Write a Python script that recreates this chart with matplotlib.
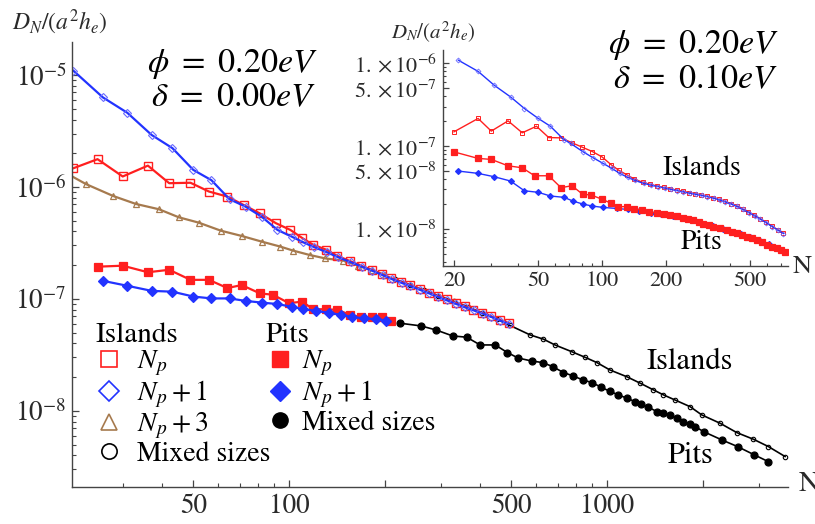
import matplotlib
matplotlib.use("Agg")
import matplotlib.pyplot as plt
from matplotlib.lines import Line2D
from matplotlib.ticker import FixedLocator, FixedFormatter, NullFormatter

plt.rcParams["font.family"] = "STIXGeneral"
plt.rcParams["mathtext.fontset"] = "stix"
plt.rcParams["axes.linewidth"] = 1.0

RED = "#ff1f1f"
BLUE = "#2233ff"
BROWN = "#a67a4e"
TXT = "#2a2a2a"
AXC = "#444444"

# ---- main panel: delta = 0.00 eV ----
isl_np_N = [21, 25, 30, 36, 42, 49, 56, 64, 72, 81, 91, 101, 110, 119, 131, 142, 156,
            169, 182, 196, 210, 225, 240, 258, 275, 294, 313, 335, 357, 380, 405, 432,
            460, 490]
isl_np_D = [1.47e-6, 1.77e-6, 1.24e-6, 1.55e-6, 1.08e-6, 1.09e-6, 9.1e-7, 8.2e-7,
            6.9e-7, 5.8e-7, 4.74e-7, 4.13e-7, 3.5e-7, 3.05e-7, 2.75e-7, 2.42e-7,
            2.17e-7, 1.97e-7, 1.82e-7, 1.66e-7, 1.53e-7, 1.42e-7, 1.33e-7, 1.23e-7,
            1.14e-7, 1.06e-7, 9.9e-8, 9.2e-8, 8.6e-8, 8.0e-8, 7.5e-8, 7.0e-8, 6.5e-8,
            6.1e-8]
isl_np1_N = [21, 26, 31, 37, 43, 50, 57, 65, 73, 82, 92, 102, 111, 120, 132, 143, 157,
             170, 183, 197, 211, 226, 241, 259, 276, 295, 314, 336, 358, 381, 406, 433,
             461, 491]
isl_np1_D = [1.09e-5, 6.3e-6, 4.6e-6, 2.91e-6, 2.22e-6, 1.42e-6, 1.15e-6, 7.77e-7,
             6.67e-7, 5.43e-7, 4.13e-7, 3.6e-7, 3.2e-7, 2.9e-7, 2.6e-7, 2.35e-7,
             2.12e-7, 1.93e-7, 1.78e-7, 1.63e-7, 1.5e-7, 1.39e-7, 1.3e-7, 1.2e-7,
             1.12e-7, 1.04e-7, 9.7e-8, 9.0e-8, 8.4e-8, 7.9e-8, 7.4e-8, 6.9e-8, 6.4e-8,
             6.0e-8]
isl_np3_N = [20, 23, 28, 33, 39, 45, 52, 61, 71, 82, 94, 103, 116, 130, 148, 165, 183, 200]
isl_np3_D = [1.32e-6, 1.06e-6, 8.3e-7, 7.05e-7, 6.32e-7, 5.36e-7, 4.8e-7, 4.07e-7,
             3.65e-7, 3.25e-7, 2.93e-7, 2.7e-7, 2.47e-7, 2.3e-7, 2.2e-7, 1.98e-7,
             1.8e-7, 1.64e-7]
isl_mix_N = [215, 240, 265, 295, 330, 365, 405, 450, 495, 573, 631, 686, 774, 853, 929,
             1021, 1153, 1270, 1399, 1504, 1637, 1825, 1986, 2266, 2558, 2886, 3216, 3630]
isl_mix_D = [1.5e-7, 1.34e-7, 1.2e-7, 1.07e-7, 9.5e-8, 8.5e-8, 7.5e-8, 6.6e-8, 5.8e-8,
             4.77e-8, 4.37e-8, 3.88e-8, 3.38e-8, 3.01e-8, 2.7e-8, 2.32e-8, 2.02e-8,
             1.77e-8, 1.54e-8, 1.39e-8, 1.25e-8, 1.09e-8, 9.2e-9, 7.76e-9, 6.4e-9,
             5.58e-9, 4.8e-9, 3.91e-9]
pit_np_N = [25, 30, 36, 42, 49, 56, 64, 71, 81, 89, 100, 110, 119, 131, 142, 156, 169,
            182, 196, 210]
pit_np_D = [1.94e-7, 1.98e-7, 1.73e-7, 1.82e-7, 1.48e-7, 1.48e-7, 1.25e-7, 1.33e-7,
            1.12e-7, 1.09e-7, 9.16e-8, 9.46e-8, 8.09e-8, 8.09e-8, 7.97e-8, 7.2e-8,
            6.87e-8, 6.87e-8, 6.87e-8, 6.4e-8]
pit_np1_N = [26, 31, 37, 43, 50, 57, 65, 73, 82, 92, 102, 111, 122, 134, 146, 158, 172,
             188, 202]
pit_np1_D = [1.45e-7, 1.31e-7, 1.18e-7, 1.16e-7, 1.05e-7, 1.01e-7, 1.01e-7, 9.6e-8,
             9.27e-8, 9.0e-8, 8.5e-8, 8.1e-8, 7.8e-8, 7.5e-8, 7.2e-8, 6.9e-8, 6.7e-8,
             6.6e-8, 6.4e-8]
pit_mix_N = [223, 260, 290, 327, 362, 399, 445, 486, 526, 580, 627, 674, 729, 783, 839,
             896, 958, 1022, 1086, 1153, 1225, 1277, 1349, 1433, 1504, 1578, 1656, 1738,
             1824, 1892, 2011, 2297, 2572, 2904, 3216]
pit_mix_D = [6.07e-8, 5.74e-8, 5.28e-8, 4.67e-8, 4.55e-8, 3.88e-8, 3.88e-8, 3.32e-8,
             2.96e-8, 2.79e-8, 2.7e-8, 2.49e-8, 2.2e-8, 2.05e-8, 1.89e-8, 1.79e-8,
             1.63e-8, 1.49e-8, 1.39e-8, 1.3e-8, 1.21e-8, 1.15e-8, 1.08e-8, 9.86e-9,
             9.66e-9, 9.2e-9, 8.6e-9, 8.0e-9, 7.65e-9, 7.24e-9, 6.53e-9, 5.5e-9, 4.8e-9,
             4.05e-9, 3.52e-9]

# ---- inset: delta = 0.10 eV ----
ins_isl_np_N = [20, 26, 30, 36, 42, 49, 56, 64, 72, 80, 90, 100, 110, 120, 131, 142,
                156, 169, 182, 196, 210, 225, 240, 258, 275, 294, 313, 335, 357, 380,
                405, 432, 460, 490, 523, 557, 593, 632, 673, 716]
ins_isl_np_D = [1.49e-7, 2.16e-7, 1.52e-7, 2.02e-7, 1.45e-7, 1.74e-7, 1.27e-7, 1.26e-7,
                1.1e-7, 9.8e-8, 8.6e-8, 7.4e-8, 6.0e-8, 5.1e-8, 4.5e-8, 4.0e-8, 3.65e-8,
                3.45e-8, 3.3e-8, 3.17e-8, 3.05e-8, 2.95e-8, 2.85e-8, 2.75e-8, 2.66e-8,
                2.57e-8, 2.48e-8, 2.38e-8, 2.27e-8, 2.15e-8, 2.03e-8, 1.9e-8, 1.75e-8,
                1.6e-8, 1.46e-8, 1.33e-8, 1.2e-8, 1.08e-8, 9.8e-9, 8.9e-9]
ins_isl_np1_N = [21, 26, 31, 37, 43, 50, 57, 66, 71, 81, 91, 101, 111, 121, 132, 143,
                 157, 170, 183, 197, 211, 226, 241, 259, 276, 295, 314, 336, 358, 381,
                 406, 433, 461, 491, 524, 558, 594, 633, 674, 717]
ins_isl_np1_D = [1.09e-6, 8.0e-7, 5.43e-7, 3.93e-7, 2.85e-7, 2.16e-7, 1.74e-7, 1.2e-7,
                 1.08e-7, 8.6e-8, 7.2e-8, 6.2e-8, 5.4e-8, 4.7e-8, 4.2e-8, 3.85e-8,
                 3.55e-8, 3.38e-8, 3.25e-8, 3.12e-8, 3.0e-8, 2.9e-8, 2.8e-8, 2.7e-8,
                 2.62e-8, 2.54e-8, 2.45e-8, 2.35e-8, 2.24e-8, 2.12e-8, 2.0e-8, 1.87e-8,
                 1.72e-8, 1.58e-8, 1.44e-8, 1.31e-8, 1.19e-8, 1.07e-8, 9.7e-9, 8.8e-9]
ins_pit_np_N = [20, 26, 30, 36, 42, 48, 56, 64, 72, 81, 89, 100, 110, 119, 131, 142, 154,
                167, 181, 195, 209, 225, 242, 255, 269, 285, 300, 318, 335, 360, 387,
                410, 432, 456, 481, 508, 536, 566, 597, 630, 666, 697, 729]
ins_pit_np_D = [8.53e-8, 7.11e-8, 6.92e-8, 5.79e-8, 5.48e-8, 4.39e-8, 4.39e-8, 3.15e-8,
                3.33e-8, 2.62e-8, 2.57e-8, 2.28e-8, 2.05e-8, 1.86e-8, 1.86e-8, 1.76e-8,
                1.69e-8, 1.62e-8, 1.55e-8, 1.51e-8, 1.48e-8, 1.42e-8, 1.35e-8, 1.32e-8,
                1.28e-8, 1.22e-8, 1.15e-8, 1.11e-8, 1.07e-8, 1.02e-8, 9.7e-9, 9.2e-9,
                8.87e-9, 8.45e-9, 8.07e-9, 7.7e-9, 7.36e-9, 6.9e-9, 6.41e-9, 6.1e-9,
                5.85e-9, 5.6e-9, 5.33e-9]
ins_pit_np1_N = [21, 26, 31, 37, 43, 50, 57, 66, 73, 81, 90, 101, 117, 132, 150, 170,
                 190, 215, 240, 270, 300, 335, 370, 410, 450, 500, 550, 610, 670, 735]
ins_pit_np1_D = [5.0e-8, 4.69e-8, 4.27e-8, 3.79e-8, 2.89e-8, 2.77e-8, 2.5e-8, 2.41e-8,
                 2.17e-8, 2.0e-8, 1.89e-8, 1.82e-8, 1.77e-8, 1.72e-8, 1.64e-8, 1.57e-8,
                 1.51e-8, 1.45e-8, 1.37e-8, 1.29e-8, 1.16e-8, 1.08e-8, 1.0e-8, 9.3e-9,
                 8.6e-9, 7.9e-9, 7.3e-9, 6.5e-9, 5.9e-9, 5.3e-9]

main_xticks = [50, 100, 200, 500, 1000, 2000]
main_xlabels = ["50", "100", "", "500", "1000", ""]
main_xminor = [30, 40, 60, 70, 80, 90, 300, 400, 600, 700, 800, 900, 3000]
main_yticks = [1e-8, 1e-7, 1e-6, 1e-5]
main_ylabels = [r"$10^{-8}$", r"$10^{-7}$", r"$10^{-6}$", r"$10^{-5}$"]
ins_xticks = [20, 50, 100, 200, 500]
ins_xminor = [30, 40, 60, 70, 80, 90, 300, 400, 600, 700]
ins_yticks = [1e-8, 5e-8, 1e-7, 5e-7, 1e-6]
ins_ylabels = [r"$1.\times10^{-8}$", r"$5.\times10^{-8}$", r"$1.\times10^{-7}$",
               r"$5.\times10^{-7}$", r"$1.\times10^{-6}$"]


def minor_decades(lo, hi):
    out = []
    for e in range(lo, hi):
        for k in range(2, 10):
            out.append(k * 10.0 ** e)
    return out


def style_axes(ax, fs):
    ax.set_xscale("log")
    ax.set_yscale("log")
    ax.set_facecolor("none")
    for s in ["top", "right"]:
        ax.spines[s].set_visible(False)
    for s in ["left", "bottom"]:
        ax.spines[s].set_color(AXC)
    ax.tick_params(which="both", direction="in", colors=AXC, labelcolor=TXT,
                   labelsize=fs)
    ax.tick_params(which="major", length=5, width=0.9)
    ax.tick_params(which="minor", length=3, width=0.8)


def curve(ax, N, D, color, marker, ms, filled, lw, mew=0.9, mec=None, z=2):
    ax.plot(N, D, color=color, lw=lw, marker=marker, ms=ms,
            mfc=(mec or color) if filled else "none", mec=mec or color, mew=mew,
            zorder=z)


def ftext(x, y, s, **kw):
    # place text by pixel position measured from the top-left corner
    fig.text(x / 815, 1 - y / 524, s, **kw)


fig = plt.figure(figsize=(8.15, 5.24), dpi=100)

ax = fig.add_axes([72 / 815, 37 / 524, 716 / 815, 445 / 524])
style_axes(ax, 19.5)
ax.set_xlim(20.78, 3707)
ax.set_ylim(2.09e-9, 1.97e-5)
ax.tick_params(axis="y", pad=4)
ax.tick_params(axis="x", pad=5)
ax.xaxis.set_major_locator(FixedLocator(main_xticks))
ax.xaxis.set_major_formatter(FixedFormatter(main_xlabels))
ax.xaxis.set_minor_locator(FixedLocator(main_xminor))
ax.xaxis.set_minor_formatter(NullFormatter())
ax.yaxis.set_major_locator(FixedLocator(main_yticks))
ax.yaxis.set_major_formatter(FixedFormatter(main_ylabels))
ax.yaxis.set_minor_locator(FixedLocator(minor_decades(-9, -4)))
ax.yaxis.set_minor_formatter(NullFormatter())

curve(ax, isl_mix_N, isl_mix_D, "black", "o", 3.2, False, 1.2, mew=0.8)
curve(ax, pit_mix_N, pit_mix_D, "black", "o", 5.0, True, 1.2)
curve(ax, isl_np3_N, isl_np3_D, BROWN, "^", 4.5, False, 1.6, mew=0.9)
curve(ax, isl_np_N, isl_np_D, RED, "s", 5.5, False, 1.6, mew=1.0)
curve(ax, isl_np1_N, isl_np1_D, BLUE, "D", 4.0, False, 1.6, mew=0.8, mec="#6a6aff")
curve(ax, pit_np_N, pit_np_D, RED, "s", 6.0, True, 1.6)
curve(ax, pit_np1_N, pit_np1_D, BLUE, "D", 5.0, True, 1.6)

ftext(232, 64, r"$\phi\ =\ 0.20eV$", fontsize=24.5, ha="center", va="center")
ftext(234, 98, r"$\delta\ =\ 0.00eV$", fontsize=24.5, ha="center", va="center")
ftext(690, 362, "Islands", fontsize=22, ha="center", va="center")
ftext(690, 456, "Pits", fontsize=22, ha="center", va="center")
ftext(12, 22, r"$D_N/(a^2h_e)$", fontsize=17, ha="left", va="center", color=TXT)
ftext(799, 484, "N", fontsize=21, ha="left", va="center", color=TXT)

# legends
isl_handles = [
    Line2D([], [], ls="none", marker="s", ms=12, mfc="none", mec=RED, mew=1.2),
    Line2D([], [], ls="none", marker="D", ms=10, mfc="none", mec=BLUE, mew=1.2),
    Line2D([], [], ls="none", marker="^", ms=12, mfc="none", mec=BROWN, mew=1.2),
    Line2D([], [], ls="none", marker="o", ms=11, mfc="none", mec="black", mew=1.2),
]
isl_labels = [r"$N_p$", r"$N_p+1$", r"$N_p+3$", "Mixed sizes"]
pit_handles = [
    Line2D([], [], ls="none", marker="s", ms=12, mfc=RED, mec=RED),
    Line2D([], [], ls="none", marker="D", ms=10, mfc=BLUE, mec=BLUE),
    Line2D([], [], ls="none", marker="o", ms=11, mfc="black", mec="black"),
]
pit_labels = [r"$N_p$", r"$N_p+1$", "Mixed sizes"]
leg_kw = dict(loc="upper left", frameon=False, fontsize=20, title_fontsize=21,
              alignment="left", borderpad=0, borderaxespad=0, handlelength=1.0,
              handletextpad=0.5, labelspacing=0.02)
leg1 = fig.legend(isl_handles, isl_labels, title="Islands",
                  bbox_to_anchor=(95 / 815, 1 - 323 / 524), **leg_kw)
leg2 = fig.legend(pit_handles, pit_labels, title="Pits",
                  bbox_to_anchor=(266 / 815, 1 - 323 / 524),
                  **dict(leg_kw, handletextpad=0.3))

# inset
ins = fig.add_axes([442.7 / 815, (524 - 265.7) / 524, 345.3 / 815, 215.7 / 524])
style_axes(ins, 16)
ins.set_xlim(17.7, 753)
ins.set_ylim(3.6e-9, 1.45e-6)
ins.tick_params(which="major", length=4)
ins.tick_params(which="minor", length=2.5)
ins.tick_params(axis="y", pad=4)
ins.tick_params(axis="x", pad=4)
ins.xaxis.set_major_locator(FixedLocator(ins_xticks))
ins.xaxis.set_major_formatter(FixedFormatter([str(v) for v in ins_xticks]))
ins.xaxis.set_minor_locator(FixedLocator(ins_xminor))
ins.xaxis.set_minor_formatter(NullFormatter())
ins.yaxis.set_major_locator(FixedLocator(ins_yticks))
ins.yaxis.set_major_formatter(FixedFormatter(ins_ylabels))
ins.yaxis.set_minor_locator(FixedLocator(minor_decades(-9, -5)))
ins.yaxis.set_minor_formatter(NullFormatter())

curve(ins, ins_isl_np_N, ins_isl_np_D, RED, "s", 3.5, False, 1.0, mew=0.7)
curve(ins, ins_isl_np1_N, ins_isl_np1_D, BLUE, "D", 2.5, False, 1.0, mew=0.6,
      mec="#6a6aff")
curve(ins, ins_pit_np1_N, ins_pit_np1_D, BLUE, "D", 3.0, True, 1.0)
curve(ins, ins_pit_np_N, ins_pit_np_D, RED, "s", 4.5, True, 1.0)

ftext(693, 45, r"$\phi\ =\ 0.20eV$", fontsize=24.5, ha="center", va="center")
ftext(696, 80, r"$\delta\ =\ 0.10eV$", fontsize=24.5, ha="center", va="center")
ftext(702, 168, "Islands", fontsize=20, ha="center", va="center")
ftext(701, 242, "Pits", fontsize=20, ha="center", va="center")
ftext(391, 32, r"$D_N/(a^2h_e)$", fontsize=15, ha="left", va="center", color=TXT)
ftext(793, 267, "N", fontsize=19, ha="left", va="center", color=TXT)

fig.savefig("out.png", dpi=100)
